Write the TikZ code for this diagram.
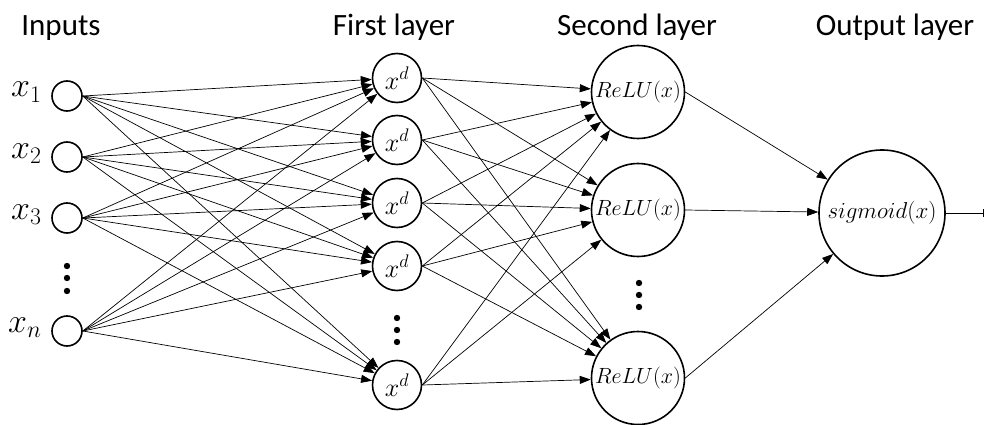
\RequirePackage{fix-cm}
\documentclass[tikz,border=0pt]{standalone}
\usepackage{fontspec}
\setmainfont{Carlito}
\usetikzlibrary{arrows.meta}

\begin{document}
\begin{tikzpicture}[x=1pt, y=-1pt,
  neuron/.style={draw, circle, line width=1.6pt, inner sep=0pt},
  conn/.style={-{Triangle[length=11pt,width=8pt]}, line width=0.7pt},
  title/.style={anchor=base, font=\fontsize{31}{36}\selectfont}]
  \useasboundingbox (0,0) rectangle (985,425);

  % Titles
  \node[title] (tin) at (61,36) {Inputs};
  \node[title] (tfirst) at (394,36) {First layer};
  \node[title] (tsecond) at (637,36) {Second layer};
  \node[title] (tout) at (895,36) {Output layer};

  % Inputs
  \node[neuron, minimum size=30pt] (in1) at (67,96) {};
  \node[neuron, minimum size=30pt] (in2) at (67,157) {};
  \node[neuron, minimum size=30pt] (in3) at (67,218) {};
  \node[neuron, minimum size=30pt] (in4) at (67,331) {};
  \node[anchor=base east, font=\fontsize{34}{40}\selectfont] (lx1) at (45,97) {$x_1$};
  \node[anchor=base east, font=\fontsize{34}{40}\selectfont] (lx2) at (45,158) {$x_2$};
  \node[anchor=base east, font=\fontsize{34}{40}\selectfont] (lx3) at (45,219) {$x_3$};
  \node[anchor=base east, font=\fontsize{34}{40}\selectfont] (lxn) at (45,332) {$x_n$};
  \fill (67,266) circle (3.2pt) (67,278) circle (3.2pt) (67,291) circle (3.2pt);

  % First layer
  \foreach \n/\y in {1/78, 2/140, 3/203, 4/266, 5/385}
    \node[neuron, minimum size=49pt, font=\fontsize{26}{30}\selectfont] (h\n) at (397,\y) {$x^d$};
  \fill (397,318) circle (3.2pt) (397,330) circle (3.2pt) (397,342) circle (3.2pt);

  % Second layer
  \foreach \n/\y in {1/92, 2/210, 3/378}
    \node[neuron, minimum size=93pt, font=\fontsize{22}{26}\selectfont] (r\n) at (638,\y) {$ReLU(x)$};
  \fill (639,283) circle (3.2pt) (639,295) circle (3.2pt) (639,307) circle (3.2pt);

  % Output layer
  \node[neuron, minimum size=126pt, font=\fontsize{23}{27}\selectfont] (out) at (882,213) {$sigmoid(x)$};
  \coordinate (res) at (984,213);

  % Connections
  \foreach \i in {1,...,4}
    \foreach \j in {1,...,5}
      \draw[conn] (in\i.east) -- (h\j);
  \foreach \i in {1,...,5}
    \foreach \j in {1,2,3}
      \draw[conn] (h\i.east) -- (r\j);
  \foreach \j in {1,2,3}
    \draw[conn] (r\j.east) -- (out);
  \draw[line width=0.7pt, -{Bar[width=8pt]}] (out) -- (res);
\end{tikzpicture}
\end{document}
